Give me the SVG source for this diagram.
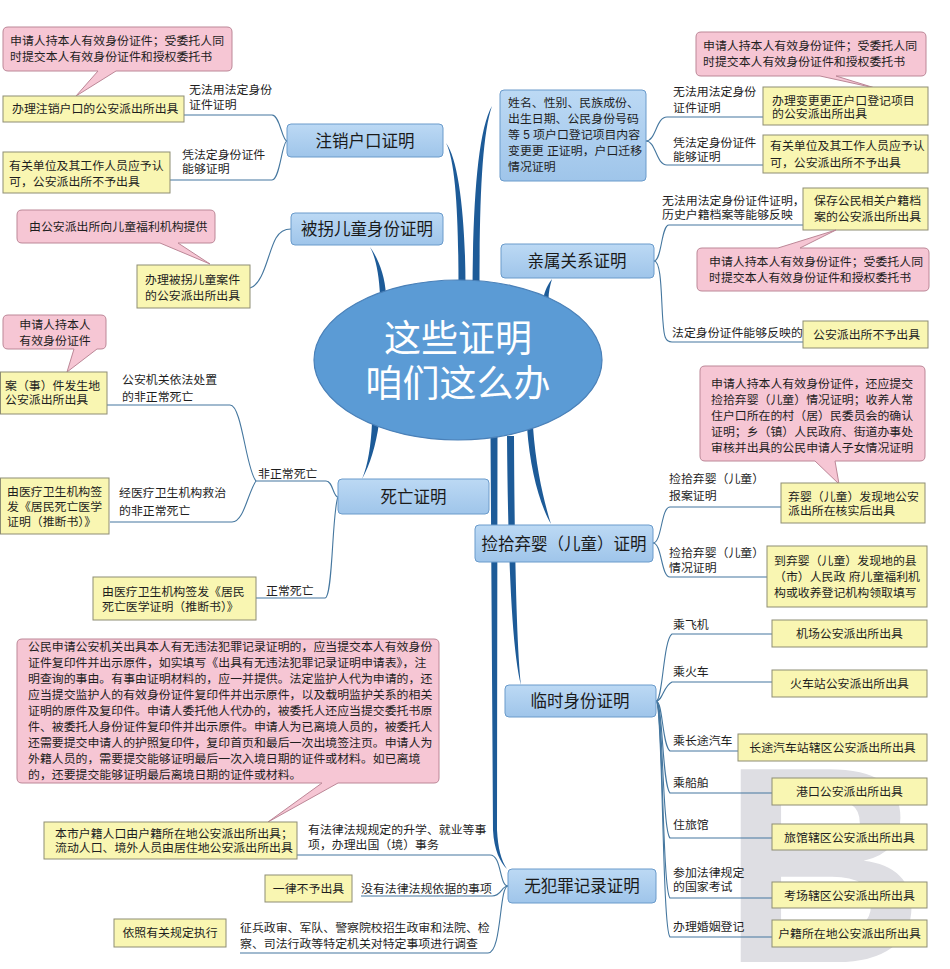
<svg xmlns="http://www.w3.org/2000/svg" width="950" height="969" viewBox="0 0 950 969">
<defs>
<style>
text{font-family:'Liberation Sans','Noto Sans CJK SC',sans-serif;font-size:11.9px;fill:#1e1e1e}
.tp{font-size:16.5px;text-anchor:middle;fill:#1a1a1a}
.m{text-anchor:middle}
.y{fill:#f9f6b2;stroke:#8e8d74;stroke-width:1}
.p{fill:#f6c6d4;stroke:#bc8797;stroke-width:1}
.b{fill:url(#bg);stroke:#6a9bcb;stroke-width:1}
.c{fill:none;stroke:#45779f;stroke-width:1.1}
.tr{fill:#1d5b98}
.ct{font-size:37px;fill:#ffffff;text-anchor:middle}
</style>
<linearGradient id="bg" x1="0" y1="0" x2="0" y2="1"><stop offset="0" stop-color="#bcd9f4"/><stop offset="1" stop-color="#9fc5ea"/></linearGradient>
</defs>
<rect width="950" height="969" fill="#ffffff"/>
<text x="722" y="962" style="font-family:'Liberation Sans',sans-serif;font-size:280px;font-weight:bold;fill:#dedee3">B</text>

<g id="trunks">
<path class="tr" d="M458.5,288 C458.5,220 456,162 446,143 C459,160 465.5,220 465.5,288 Z"/>
<path class="tr" d="M472.5,288 C473,200 478,130 492,106 C482,135 479.5,200 479.5,288 Z"/>
<path class="tr" d="M380,295 C379,275 376,258 370,247 C378,258 385,275 386,295 Z"/>
<path class="tr" d="M543,299 C545,290 548,284 552,279 C550,286 548.5,292 548.5,299 Z"/>
<path class="tr" d="M372,423 C371,445 368,465 362,479 C370,465 376,445 379,423 Z"/>
<path class="tr" d="M490.5,436 L493,830 C494,850 500,862 507,869 C501,860 498,848 497,830 L497.5,436 Z"/>
<path class="tr" d="M507,436 C508,560 512,650 521,685 C517,650 514.5,560 514,436 Z"/>
<path class="tr" d="M527,427 C530,470 540,505 551,524 C545,505 536,470 533,427 Z"/>
</g>

<g id="connectors">
<path class="c" d="M184,115 H272 C280,115 282,141 287,141"/>
<path class="c" d="M170,180 H272 C280,180 282,141 287,141"/>
<path class="c" d="M250,288 C264,284 268,252 276,238 C280,231 285,229 291,229"/>
<path class="c" d="M646,141 C656,141 656,117 667,117 H763"/>
<path class="c" d="M646,141 C656,141 656,165 667,165 H763"/>
<path class="c" d="M654,261 C662,261 661,225 669,225 H803"/>
<path class="c" d="M654,261 C662,261 661,300 663,322 C664,336 665,342 672,342 H803"/>
<path class="c" d="M653,543 C662,543 661,507 670,507 H781"/>
<path class="c" d="M653,543 C662,543 661,577 670,577 H767"/>
<path class="c" d="M656,701 C663,701 663,640 672,634 H772"/>
<path class="c" d="M656,701 C663,701 663,686 672,682 H772"/>
<path class="c" d="M656,701 C663,701 662,745 670,751 H738"/>
<path class="c" d="M656,701 C663,701 662,785 670,793 H772"/>
<path class="c" d="M656,701 C663,701 662,830 670,838 H772"/>
<path class="c" d="M656,701 C663,701 662,890 670,898 H772"/>
<path class="c" d="M656,701 C663,701 662,930 670,937 H772"/>
<path class="c" d="M508,886 C499,886 502,855 490,855 H297"/>
<path class="c" d="M508,886 C501,886 502,896 492,896 H361"/>
<path class="c" d="M508,886 C499,886 502,953 488,953 H240"/>
<path class="c" d="M107,405 H230 C242,405 246,470 256,481"/>
<path class="c" d="M110,522 H232 C244,522 248,492 256,481"/>
<path class="c" d="M256,481 H326 C333,481 333,497 338,497"/>
<path class="c" d="M256,598 H325 C333,598 332,510 338,497"/>
</g>

<g id="center">
<ellipse cx="458" cy="360" rx="144" ry="80" fill="#5b9bd5" stroke="#4a80b8" stroke-width="1.2"/>
<text class="ct" x="458" y="352">这些证明</text>
<text class="ct" x="458" y="397">咱们这么办</text>
</g>

<g id="n-zhuxiao">
<rect class="b" x="287" y="124" width="156" height="33" rx="4"/>
<text class="tp" x="365" y="146.5">注销户口证明</text>
<path class="p" d="M8,27 H227 Q232,27 232,32 V66 Q232,71 227,71 H116 L76,96 L98,71 H8 Q3,71 3,66 V32 Q3,27 8,27 Z"/>
<text x="10" y="45">申请人持本人有效身份证件；受委托人同</text>
<text x="10" y="61">时提交本人有效身份证件和授权委托书</text>
<rect class="y" x="3" y="96" width="181" height="26"/>
<text x="12" y="113">办理注销户口的公安派出所出具</text>
<text x="189" y="94">无法用法定身份</text>
<text x="189" y="108.5">证件证明</text>
<text x="182" y="158.5">凭法定身份证件</text>
<text x="182" y="173">能够证明</text>
<rect class="y" x="3" y="152" width="167" height="41"/>
<text x="9" y="169.5">有关单位及其工作人员应予认</text>
<text x="9" y="186">可，公安派出所不予出具</text>
</g>

<g id="n-beiguai">
<rect class="b" x="291" y="213" width="152" height="32" rx="4"/>
<text class="tp" x="367" y="235">被拐儿童身份证明</text>
<path class="p" d="M22,210 H210 Q215,210 215,215 V238 Q215,243 210,243 H178 L210,264 L160,243 H22 Q17,243 17,238 V215 Q17,210 22,210 Z"/>
<text x="29" y="231">由公安派出所向儿童福利机构提供</text>
<rect class="y" x="137" y="265" width="113" height="43"/>
<text x="145" y="283.5">办理被拐儿童案件</text>
<text x="145" y="299.5">的公安派出所出具</text>
</g>

<g id="n-xingming">
<rect class="b" x="500" y="90" width="146" height="91" rx="4"/>
<text x="508" y="106.5">姓名、性别、民族成份、</text>
<text x="508" y="122.5">出生日期、公民身份号码</text>
<text x="508" y="138.5">等 5 项户口登记项目内容</text>
<text x="508" y="154.5">变更更 正证明，户口迁移</text>
<text x="508" y="170.5">情况证明</text>
<path class="p" d="M701,32 H921 Q926,32 926,37 V71 Q926,76 921,76 H836 L875,88 L820,76 H701 Q696,76 696,71 V37 Q696,32 701,32 Z"/>
<text x="703" y="49.5">申请人持本人有效身份证件；受委托人同</text>
<text x="703" y="65.5">时提交本人有效身份证件和授权委托书</text>
<text x="673" y="95.5">无法用法定身份</text>
<text x="673" y="111.5">证件证明</text>
<rect class="y" x="763" y="87" width="165" height="38"/>
<text x="772" y="104.5">办理变更更正户口登记项目</text>
<text x="772" y="118">的公安派出所出具</text>
<text x="673" y="146.5">凭法定身份证件</text>
<text x="673" y="160.5">能够证明</text>
<rect class="y" x="763" y="135" width="165" height="38"/>
<text x="770" y="150">有关单位及其工作人员应予认</text>
<text x="770" y="167">可，公安派出所不予出具</text>
</g>

<g id="n-qinshu">
<rect class="b" x="501" y="244" width="153" height="34" rx="4"/>
<text class="tp" x="577" y="267">亲属关系证明</text>
<text x="662" y="204.5">无法用法定身份证件证明，</text>
<text x="662" y="218.5">历史户籍档案等能够反映</text>
<rect class="y" x="803" y="188" width="125" height="42"/>
<text x="814" y="204.5">保存公民相关户籍档</text>
<text x="814" y="220.5">案的公安派出所出具</text>
<path class="p" d="M702,248 H778 L836,230 L800,248 H924 Q929,248 929,253 V286 Q929,291 924,291 H702 Q697,291 697,286 V253 Q697,248 702,248 Z"/>
<text x="709" y="266">申请人持本人有效身份证件；受委托人同</text>
<text x="709" y="282">时提交本人有效身份证件和授权委托书</text>
<text x="672" y="336.5">法定身份证件能够反映的</text>
<rect class="y" x="803" y="321" width="125" height="27"/>
<text x="813" y="339">公安派出所不予出具</text>
</g>

<g id="n-jianshi">
<rect class="b" x="475" y="525" width="178" height="37" rx="4"/>
<text class="tp" x="564" y="549.5">捡拾弃婴（儿童）证明</text>
<path class="p" d="M705,366 H920 Q925,366 925,371 V456 Q925,461 920,461 H835 L839,484 L815,461 H705 Q700,461 700,456 V371 Q700,366 705,366 Z"/>
<text x="711" y="388">申请人持本人有效身份证件，还应提交</text>
<text x="711" y="404">捡拾弃婴（儿童）情况证明；收养人常</text>
<text x="711" y="420">住户口所在的村（居）民委员会的确认</text>
<text x="711" y="436">证明；乡（镇）人民政府、街道办事处</text>
<text x="711" y="452">审核并出具的公民申请人子女情况证明</text>
<text x="669" y="482.5">捡拾弃婴（儿童）</text>
<text x="669" y="499.5">报案证明</text>
<rect class="y" x="781" y="483" width="144" height="40"/>
<text x="788" y="501">弃婴（儿童）发现地公安</text>
<text x="788" y="515">派出所在核实后出具</text>
<text x="669" y="556.5">捡拾弃婴（儿童）</text>
<text x="669" y="571.5">情况证明</text>
<rect class="y" x="767" y="546" width="160" height="61"/>
<text x="774" y="564.5">到弃婴（儿童）发现地的县</text>
<text x="774" y="581">（市）人民政 府儿童福利机</text>
<text x="774" y="597">构或收养登记机构领取填写</text>
</g>

<g id="n-linshi">
<rect class="b" x="505" y="685" width="151" height="32" rx="4"/>
<text class="tp" x="580" y="707">临时身份证明</text>
<text x="673" y="628.5">乘飞机</text>
<rect class="y" x="772" y="620" width="155" height="27"/>
<text class="m" x="849.5" y="638">机场公安派出所出具</text>
<text x="673" y="675.5">乘火车</text>
<rect class="y" x="772" y="670" width="155" height="27"/>
<text class="m" x="849.5" y="688">火车站公安派出所出具</text>
<text x="673" y="744.5">乘长途汽车</text>
<rect class="y" x="738" y="734" width="189" height="27"/>
<text class="m" x="832.5" y="752">长途汽车站辖区公安派出所出具</text>
<text x="673" y="786.5">乘船舶</text>
<rect class="y" x="772" y="778" width="155" height="27"/>
<text class="m" x="849.5" y="796">港口公安派出所出具</text>
<text x="673" y="828.5">住旅馆</text>
<rect class="y" x="772" y="824" width="155" height="26"/>
<text class="m" x="849.5" y="841.5">旅馆辖区公安派出所出具</text>
<text x="673" y="876.5">参加法律规定</text>
<text x="673" y="890.5">的国家考试</text>
<rect class="y" x="772" y="882" width="155" height="26"/>
<text class="m" x="849.5" y="899.5">考场辖区公安派出所出具</text>
<text x="673" y="930.5">办理婚姻登记</text>
<rect class="y" x="772" y="920" width="155" height="27"/>
<text class="m" x="849.5" y="938">户籍所在地公安派出所出具</text>
</g>

<g id="n-wufanzui">
<rect class="b" x="508" y="869" width="148" height="34" rx="4"/>
<text class="tp" x="582" y="892">无犯罪记录证明</text>
<path class="p" d="M22,639 H434 Q439,639 439,644 V778 Q439,783 434,783 H338 L268,822 L322,783 H22 Q17,783 17,778 V644 Q17,639 22,639 Z"/>
<text x="28" y="651">公民申请公安机关出具本人有无违法犯罪记录证明的，应当提交本人有效身份</text>
<text x="28" y="667">证件复印件并出示原件，如实填写《出具有无违法犯罪记录证明申请表》，注</text>
<text x="28" y="683">明查询的事由。有事由证明材料的，应一并提供。法定监护人代为申请的，还</text>
<text x="28" y="699">应当提交监护人的有效身份证件复印件并出示原件，以及载明监护关系的相关</text>
<text x="28" y="715">证明的原件及复印件。申请人委托他人代办的，被委托人还应当提交委托书原</text>
<text x="28" y="731">件、被委托人身份证件复印件并出示原件。申请人为已离境人员的，被委托人</text>
<text x="28" y="747">还需要提交申请人的护照复印件，复印首页和最后一次出境签注页。申请人为</text>
<text x="28" y="763">外籍人员的，需要提交能够证明最后一次入境日期的证件或材料。如已离境</text>
<text x="28" y="779">的，还要提交能够证明最后离境日期的证件或材料。</text>
<rect class="y" x="44" y="822" width="253" height="37"/>
<text x="55" y="837.5">本市户籍人口由户籍所在地公安派出所出具；</text>
<text x="55" y="852">流动人口、境外人员由居住地公安派出所出具</text>
<text x="308" y="833.5">有法律法规规定的升学、就业等事</text>
<text x="308" y="848.5">项，办理出国（境）事务</text>
<rect class="y" x="265" y="875" width="87" height="27"/>
<text class="m" x="308.5" y="892.5">一律不予出具</text>
<text x="361" y="892.5">没有法律法规依据的事项</text>
<rect class="y" x="114" y="919" width="112" height="28"/>
<text class="m" x="170" y="936.5">依照有关规定执行</text>
<text x="240" y="931.5">征兵政审、军队、警察院校招生政审和法院、检</text>
<text x="240" y="947.5">察、司法行政等特定机关对特定事项进行调查</text>
</g>

<g id="n-siwang">
<rect class="b" x="338" y="479" width="151" height="35" rx="4"/>
<text class="tp" x="413.5" y="502.5">死亡证明</text>
<path class="p" d="M8,315 H101 Q106,315 106,320 V344 Q106,349 101,349 H97 L67,372 L74,349 H8 Q3,349 3,344 V320 Q3,315 8,315 Z"/>
<text class="m" x="55" y="328.5">申请人持本人</text>
<text class="m" x="55" y="344.5">有效身份证件</text>
<rect class="y" x="0.5" y="372" width="106.5" height="42"/>
<text x="5" y="389.5">案（事）件发生地</text>
<text x="5" y="404">公安派出所出具</text>
<text x="122" y="384">公安机关依法处置</text>
<text x="122" y="401">的非正常死亡</text>
<text x="258" y="477.5">非正常死亡</text>
<text x="119" y="497">经医疗卫生机构救治</text>
<text x="119" y="514.5">的非正常死亡</text>
<rect class="y" x="0.5" y="478" width="108.5" height="56"/>
<text x="7" y="496">由医疗卫生机构签</text>
<text x="7" y="511">发《居民死亡医学</text>
<text x="7" y="526">证明（推断书）》</text>
<rect class="y" x="93" y="577" width="163" height="43"/>
<text x="102" y="595.5">由医疗卫生机构签发《居民</text>
<text x="102" y="610.5">死亡医学证明（推断书）》</text>
<text x="266" y="594.5">正常死亡</text>
</g>
</svg>
